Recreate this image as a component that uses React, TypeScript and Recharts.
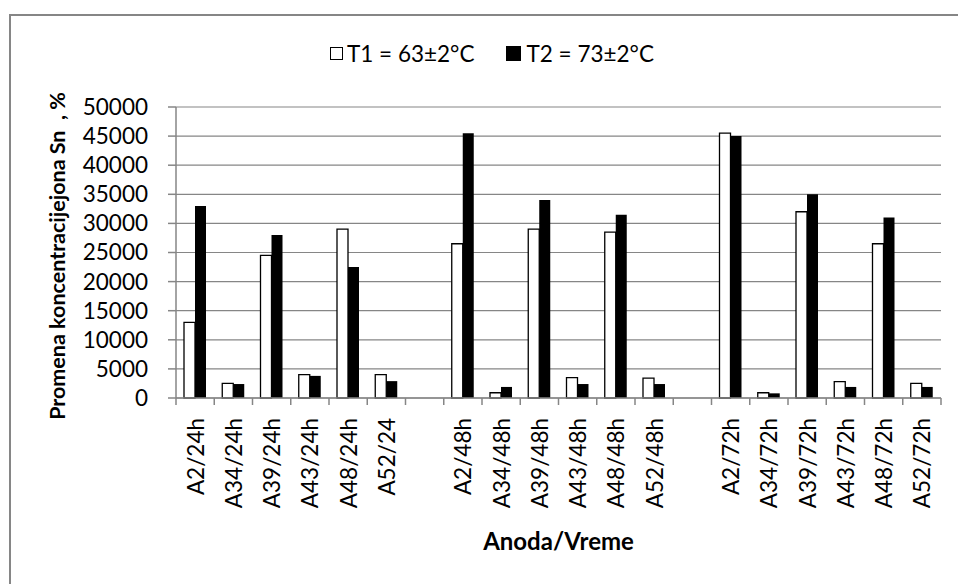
import React from "react";
import { BarChart, Bar, XAxis, YAxis, CartesianGrid } from "recharts";

const categories = [
  "A2/24h", "A34/24h", "A39/24h", "A43/24h", "A48/24h", "A52/24", " ",
  "A2/48h", "A34/48h", "A39/48h", "A43/48h", "A48/48h", "A52/48h", "  ",
  "A2/72h", "A34/72h", "A39/72h", "A43/72h", "A48/72h", "A52/72h",
];
const t1Values = [
  13000, 2500, 24500, 4000, 29000, 4000, null,
  26500, 900, 29000, 3500, 28500, 3400, null,
  45500, 900, 32000, 2800, 26500, 2500,
];
const t2Values = [
  33000, 2400, 28000, 3800, 22500, 2900, null,
  45500, 1900, 34000, 2400, 31500, 2400, null,
  45000, 800, 35000, 1900, 31000, 1900,
];
const yTicks = [0, 5000, 10000, 15000, 20000, 25000, 30000, 35000, 40000, 45000, 50000];
const seriesNames = ["T1 = 63±2°C", "T2 = 73±2°C"];

const data = categories.map((name, i) => ({ name, t1: t1Values[i], t2: t2Values[i] }));

const W = 958;
const H = 584;
const margin = { top: 107, right: 17, bottom: 26, left: 0 };
const yAxisWidth = 176;
const plotWidth = W - margin.left - margin.right - yAxisWidth;
const halfBand = plotWidth / categories.length / 2;
const gray = "#868686";
const font = "Lato, 'Open Sans', sans-serif";
const fs = 22.5;

const XTick = (props: any) => {
  const { x, y, payload, index } = props;
  const last = index === categories.length - 1;
  const ty = y + 20;
  return (
    <g>
      <line x1={x - halfBand} x2={x - halfBand} y1={y} y2={y + 7} stroke={gray} strokeWidth={1.5} />
      {last && <line x1={x + halfBand} x2={x + halfBand} y1={y} y2={y + 7} stroke={gray} strokeWidth={1.5} />}
      <text
        x={x}
        y={ty}
        transform={`rotate(-90 ${x} ${ty})`}
        textAnchor="end"
        dominantBaseline="central"
        fill="#000"
        fontSize={fs}
        fontFamily={font}
      >
        {payload.value}
      </text>
    </g>
  );
};

export default function App() {
  return (
    <div style={{ position: "absolute", left: 0, top: 0, width: W, height: H, background: "#fff", overflow: "hidden", fontFamily: font }}>
      <div style={{ position: "absolute", left: 9, top: 14, width: W, height: H, borderTop: `2px solid ${gray}`, borderLeft: `2px solid ${gray}` }} />
      <div style={{ position: "absolute", left: 330, top: 40, display: "flex", alignItems: "center", fontSize: fs, color: "#000", whiteSpace: "nowrap" }}>
        <span style={{ display: "inline-block", width: 11, height: 11, border: "1.5px solid #000", background: "#fff", marginRight: 4 }} />
        <span style={{ marginRight: 32 }}>{seriesNames[0]}</span>
        <span style={{ display: "inline-block", width: 15, height: 15, background: "#000", marginRight: 5 }} />
        <span>{seriesNames[1]}</span>
      </div>
      <div style={{ position: "absolute", left: 0, top: 0 }}>
        <BarChart width={W} height={H} data={data} margin={margin} barGap={0} barSize={11}>
          <CartesianGrid vertical={false} stroke={gray} strokeWidth={1.2} />
          <XAxis
            dataKey="name"
            interval={0}
            height={160}
            tickSize={0}
            tickMargin={0}
            axisLine={{ stroke: gray, strokeWidth: 1.5 }}
            tickLine={false}
            tick={<XTick />}
            label={{ value: "Anoda/Vreme", position: "insideBottom", offset: 8, fill: "#000", fontSize: 24, fontWeight: 700, fontFamily: font }}
          />
          <YAxis
            width={yAxisWidth}
            domain={[0, 50000]}
            ticks={yTicks}
            interval={0}
            tickSize={8}
            tickMargin={20}
            axisLine={{ stroke: gray, strokeWidth: 1.5 }}
            tickLine={{ stroke: gray, strokeWidth: 1.5 }}
            tick={{ fill: "#000", fontSize: fs, fontFamily: font }}
            label={{
              content: () => (
                <text
                  x={57}
                  y={256}
                  transform="rotate(-90 57 256)"
                  textAnchor="middle"
                  dominantBaseline="central"
                  fill="#000"
                  fontSize={21.5}
                  fontWeight={700}
                  fontFamily={font}
                  style={{ whiteSpace: "pre" }}
                >
                  {"Promena koncentracijejona Sn  , %"}
                </text>
              ),
            }}
          />
          <Bar dataKey="t1" name={seriesNames[0]} fill="#fff" stroke="#000" strokeWidth={1.3} isAnimationActive={false} />
          <Bar dataKey="t2" name={seriesNames[1]} fill="#000" isAnimationActive={false} />
        </BarChart>
      </div>
    </div>
  );
}
